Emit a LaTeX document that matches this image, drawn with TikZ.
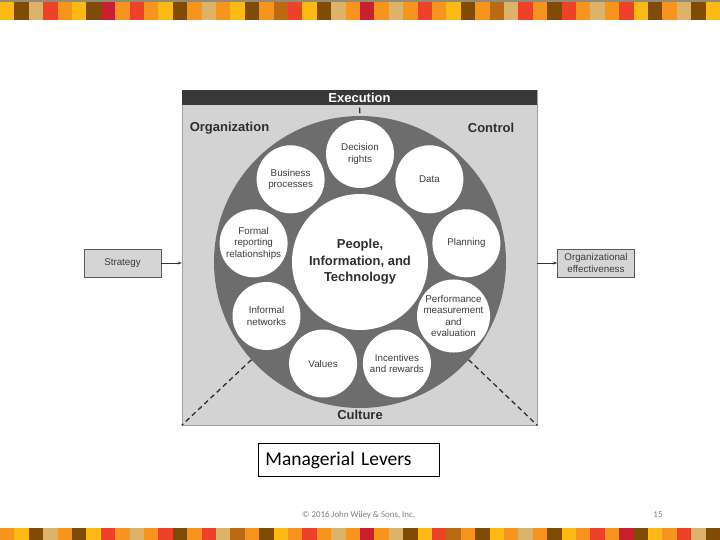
\documentclass[tikz,border=0pt]{standalone}
\usepackage{fontspec}
\setmainfont{Liberation Sans}
\newfontfamily\calibri{Carlito}
\usetikzlibrary{arrows.meta}
\definecolor{cY}{HTML}{FDB913}
\definecolor{cB}{HTML}{7F4B06}
\definecolor{cT}{HTML}{DDB36B}
\definecolor{cR}{HTML}{EE4129}
\definecolor{cO}{HTML}{F7941D}
\definecolor{cC}{HTML}{C8202F}
\definecolor{cBO}{HTML}{B96A12}
\definecolor{topline}{HTML}{958B73}
\definecolor{ringgray}{HTML}{6D6D6D}
\definecolor{framegray}{HTML}{D3D3D3}
\definecolor{bardark}{HTML}{383838}
\definecolor{txtdark}{HTML}{2E2E2E}
\definecolor{txtgray}{HTML}{3C3C3C}
\definecolor{boxgray}{HTML}{D5D5D5}
\tikzset{
  lever/.style={circle, fill=white, minimum size=68pt, inner sep=0pt, align=center,
    text=txtgray, font=\fontsize{9.8}{11.5}\selectfont},
  corelabel/.style={font=\bfseries\fontsize{13}{16.5}\selectfont, text=txtdark},
  sidebox/.style={draw=gray!70!black, fill=boxgray, minimum width=77pt, minimum height=28pt,
    inner sep=0pt, align=center, text=txtgray, font=\fontsize{9.8}{11.5}\selectfont, line width=0.6pt},
  arr/.style={-{Stealth[length=4pt,width=3pt]}, draw=gray!40!black, line width=0.6pt},
  dashline/.style={dashed, dash pattern=on 5pt off 3.5pt, line width=1.3pt, draw=txtdark},
}
\begin{document}
\begin{tikzpicture}[x=1pt,y=-1pt]
\useasboundingbox (0,0) rectangle (720,540);
\fill[white] (0,0) rectangle (720,540);
% top stripe
\fill[topline] (0,0) rectangle (720,2);
\foreach \c [count=\i from 0] in {cY,cB,cT,cR,cO,cY,cB,cC,cO,cR,cO,cY,cB,cO,cT,cO,cY,cB,cO,cBO,cR,cY,cB,cT,cO,cC,cO,cT,cO,cR,cO,cY,cB,cO,cBO,cT,cR,cO,cB,cR,cO,cT,cO,cR,cY,cB,cO,cT,cB,cY}
  \fill[\c] (\i*14.4,2) rectangle ++(14.4,18);
% bottom stripe
\foreach \c [count=\i from 0] in {cO,cY,cB,cT,cO,cB,cY,cR,cO,cT,cO,cR,cB,cO,cR,cT,cBO,cO,cB,cY,cO,cR,cO,cT,cO,cC,cO,cT,cB,cY,cR,cBO,cO,cB,cY,cO,cT,cO,cB,cY,cO,cR,cO,cC,cB,cY,cO,cR,cT,cB}
  \fill[\c] (\i*14.4,528) rectangle ++(14.4,12);

% frame
\node[draw=gray!75, fill=framegray, line width=0.6pt, minimum width=355pt, minimum height=335pt, inner sep=0pt] (frame) at (359.5,257.5) {};
\node[fill=bardark, minimum width=355pt, minimum height=15pt, inner sep=0pt, text=white,
  font=\bfseries\fontsize{13}{15}\selectfont] (exec) at (359.5,97.5) {Execution};
\node[corelabel] (org) at (229.5,128) {Organization};
\node[corelabel] (ctrl) at (491,128) {Control};
\node[corelabel] (cult) at (360,415) {Culture};

% ring
\node[circle, fill=ringgray, minimum size=292pt, inner sep=0pt] (ring) at (360,262) {};
\node[circle, fill=white, minimum size=136pt, inner sep=0pt, align=center, corelabel] (core) at (360,262) {People,\\Information, and\\Technology};

\node[lever] (dr) at (360,154) {Decision\\rights};
\node[lever] (bp) at (290.6,179.3) {Business\\processes};
\node[lever] (data) at (429.4,179.3) {Data};
\node[lever] (frr) at (253.6,243.3) {Formal\\reporting\\relationships};
\node[lever] (plan) at (466.4,243.3) {Planning};
\node[lever] (inet) at (266.5,316) {Informal\\networks};
\node[lever] (perf) at (453.5,316) {Performance\\measurement\\and\\evaluation};
\node[lever] (val) at (323.1,363.5) {Values};
\node[lever] (inc) at (396.9,363.5) {Incentives\\and rewards};

% dashed connectors
\draw[dashline, dash pattern=on 0pt off 2.5pt on 5.5pt off 10pt] (exec.south) -- (ring.north);
\draw[dashline] (ring.222.8) -- (frame.south west);
\draw[dashline] (ring.-42.8) -- (frame.south east);

% side boxes
\node[sidebox] (strat) at (122.5,263) {Strategy};
\node[sidebox] (oeff) at (596,263) {Organizational\\effectiveness};
\draw[arr] (strat.east) -- (strat.east -| frame.west);
\draw[arr] (oeff.west -| frame.east) -- (oeff.west);

% caption box
\node[draw=black, line width=0.7pt, anchor=west, minimum height=33pt, text width=167pt,
  inner xsep=7pt, inner ysep=0pt, align=left, font=\calibri\fontsize{19.5}{22}\selectfont] (ml) at (258,460) {Managerial Levers};

% footer
\node[anchor=west, inner sep=0pt, text=gray, font=\calibri\fontsize{8.9}{10.5}\selectfont] (copy) at (302,515) {© 2016 John Wiley \& Sons, Inc.};
\node[inner sep=0pt, text=gray, font=\calibri\fontsize{8.9}{10.5}\selectfont] (pnum) at (658,515) {15};
\end{tikzpicture}
\end{document}
